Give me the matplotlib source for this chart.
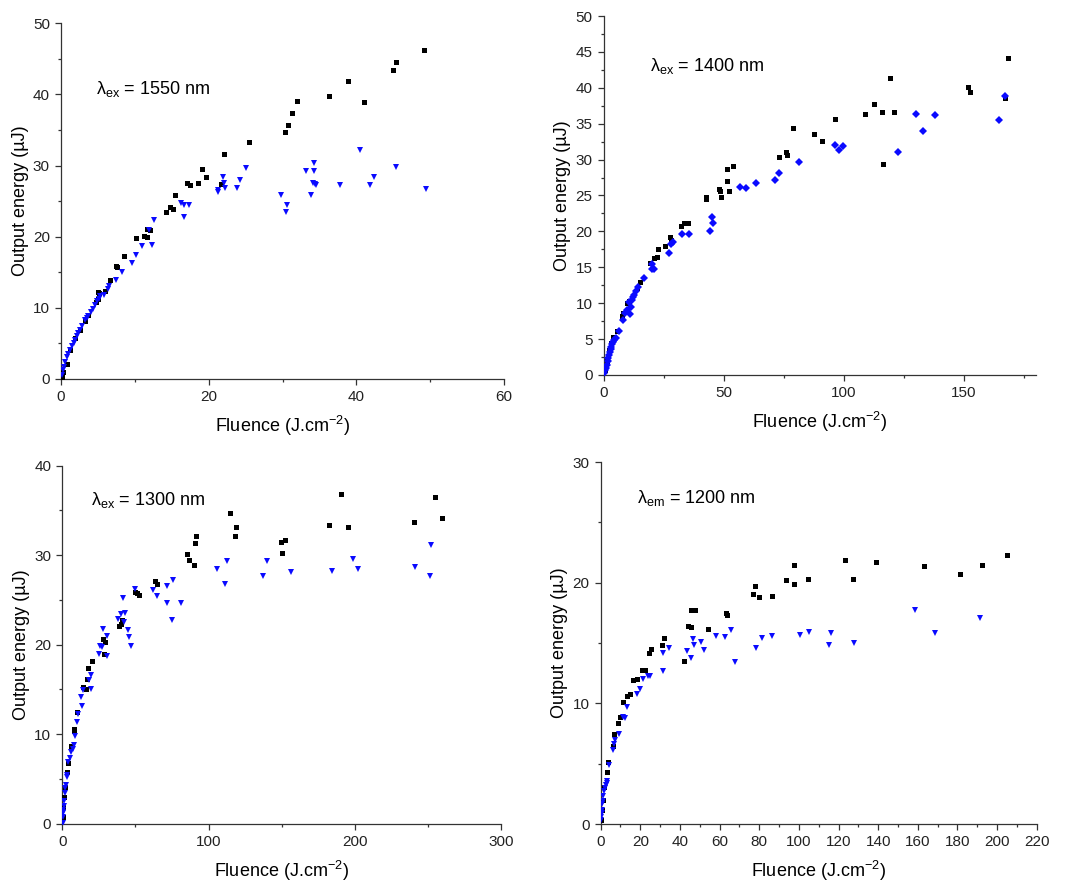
import matplotlib
matplotlib.use("Agg")
import matplotlib.pyplot as plt
from matplotlib.ticker import MultipleLocator

plt.rcParams['font.family'] = ['Liberation Sans', 'DejaVu Sans']
plt.rcParams['mathtext.default'] = 'regular'

# --- panel 1 : 1550 nm ---
p1_black_x = [0.1, 0.3, 0.77, 1.2, 1.9, 2.6, 3.2, 3.7, 4.7, 5.0, 5.05, 5.2, 5.95, 6.6, 7.5, 7.6, 8.5,
              10.2, 11.2, 11.7, 11.7, 12.1, 14.2, 14.8, 15.1, 15.4, 17.0, 17.4, 18.6, 19.1, 19.7,
              21.7, 22.1, 25.4, 30.4, 30.7, 31.3, 31.9, 36.3, 38.9, 41.0, 45.0, 45.4, 49.1]
p1_black_y = [0.3, 1.0, 2.1, 4.1, 5.8, 6.9, 8.2, 9.0, 10.8, 11.3, 12.2, 12.1, 12.4, 13.9, 15.9, 15.7, 17.3,
              19.8, 20.1, 20.0, 21.1, 20.9, 23.5, 24.2, 23.9, 25.8, 27.6, 27.3, 27.6, 29.5, 28.4,
              27.4, 31.6, 33.3, 34.7, 35.7, 37.4, 39.1, 39.8, 41.9, 38.9, 43.4, 44.6, 46.2]
p1_blue_x = [0.14, 0.25, 0.4, 0.55, 0.77, 0.95, 1.2, 1.45, 1.7, 1.9, 2.1, 2.35, 2.6, 2.9, 3.25,
             3.5, 3.7, 4.0, 4.3, 4.6, 4.9, 5.1, 5.3, 5.8, 6.3, 6.5, 7.4,
             8.2, 9.6, 10.2, 10.9, 11.9, 12.3, 12.6, 16.3, 16.6, 16.7, 17.3, 21.2, 21.2, 22.0,
             22.1, 22.2, 23.9, 24.2, 25.1, 29.8, 30.5, 30.6, 33.2, 33.9, 34.1, 34.2, 34.2, 34.4,
             34.6, 37.8, 40.5, 41.8, 42.4, 45.3, 49.4]
p1_blue_y = [0.6, 1.2, 1.7, 2.4, 3.1, 3.5, 4.1, 4.6, 5.0, 5.5, 6.0, 6.4, 6.9, 7.5, 8.3,
             8.6, 8.8, 9.4, 9.9, 10.4, 11.0, 11.2, 11.7, 11.8, 12.7, 13.1, 13.9,
             15.0, 16.3, 17.4, 18.7, 21.0, 18.8, 22.3, 24.8, 22.7, 24.4, 24.4, 26.6, 26.3, 28.4,
             27.6, 26.9, 26.8, 27.9, 29.6, 25.8, 23.5, 24.5, 29.2, 25.8, 27.5, 30.4, 29.3, 27.4,
             27.2, 27.2, 32.2, 27.3, 28.4, 29.8, 26.7]

# --- panel 2 : 1400 nm ---
p2_black_x = [0.55, 1.25, 2.1, 2.9, 4.0, 5.7, 7.6, 7.9, 9.6, 10.4, 13.8, 15.2, 19.2, 21.0, 22.1,
              22.7, 25.7, 27.7, 27.9, 32.4, 33.4, 35.2, 42.5, 42.8, 48.0, 48.4, 48.9, 51.3, 51.6,
              52.3, 53.7, 73.0, 75.9, 76.5, 79.1, 87.7, 91.1, 96.2, 109.1, 112.6, 116.1, 116.2,
              119.4, 121.1, 151.8, 152.8, 167.4, 168.6]
p2_black_y = [0.7, 1.9, 3.5, 4.4, 5.3, 6.1, 8.2, 8.6, 10.0, 10.3, 12.1, 12.9, 15.6, 16.3, 16.4,
              17.6, 18.0, 19.2, 18.8, 20.7, 21.2, 21.1, 24.5, 24.8, 25.9, 25.6, 24.8, 28.7, 27.0,
              25.6, 29.1, 30.4, 31.0, 30.6, 34.4, 33.5, 32.6, 35.7, 36.4, 37.7, 36.7, 29.4,
              41.3, 36.6, 40.1, 39.4, 38.6, 44.2]
p2_blue_x = [0.3, 0.55, 0.9, 1.25, 1.6, 1.9, 2.3, 2.6, 3.0, 3.2, 3.6, 4.0, 4.5, 5.1, 6.3, 8.2,
             8.8, 9.6, 10.4, 11.0, 11.3, 11.7, 12.2,
             12.7, 13.5, 14.5, 17.0, 20.0, 20.2, 21.0, 27.1, 28.2, 28.8, 32.5, 35.5, 44.3, 45.3,
             45.7, 57.0, 59.4, 63.5, 71.3, 73.0, 81.2, 96.5, 98.0, 99.8, 122.5, 130.3, 133.0,
             137.9, 164.9, 167.4]
p2_blue_y = [0.3, 0.7, 1.0, 1.4, 1.9, 2.3, 2.8, 3.2, 3.6, 3.9, 4.3, 4.6, 4.9, 5.2, 6.1, 7.7,
             8.6, 9.0, 10.2, 8.5, 9.5, 10.5, 10.8,
             11.1, 11.7, 12.3, 13.5, 14.8, 15.5, 14.7, 17.0, 18.2, 18.5, 19.6, 19.6, 20.1, 22.0,
             21.1, 26.2, 26.1, 26.7, 27.2, 28.1, 29.6, 32.0, 31.3, 31.9, 31.0, 36.4, 34.0,
             36.2, 35.5, 38.9]

# --- panel 3 : 1300 nm ---
p3_black_x = [0.2, 0.7, 1.4, 2.0, 3.0, 3.9, 5.7, 8.0, 8.2, 9.8, 14.4, 16.2, 17.1, 17.8, 20.0,
              28.0, 28.7, 29.1, 39.0, 40.3, 40.8, 49.7, 51.3, 52.6, 63.3, 64.5, 85.0, 86.8,
              90.0, 90.9, 91.6, 114.8, 117.8, 118.5, 149.2, 149.9, 152.4, 182.0, 190.2, 195.4,
              240.3, 254.4, 259.5]
p3_black_y = [0.8, 1.9, 3.0, 4.1, 5.8, 6.8, 8.7, 10.6, 10.3, 12.5, 15.3, 15.1, 16.2, 17.4, 18.2,
              20.6, 19.0, 20.3, 22.1, 22.3, 22.8, 25.9, 25.8, 25.5, 27.1, 26.8, 30.1, 29.5,
              28.9, 31.4, 32.1, 34.7, 32.1, 33.1, 31.5, 30.2, 31.7, 33.4, 36.8, 33.1,
              33.7, 36.5, 34.2]
p3_blue_x = [0.2, 0.3, 0.45, 0.6, 0.7, 0.9, 1.1, 1.6, 2.0, 2.5, 3.0, 3.5, 4.1, 5.2, 6.2, 7.0, 8.0,
             8.4, 9.8, 10.7, 13.0, 13.2,
             13.9, 18.4, 19.6, 19.8, 24.8, 25.7, 26.9, 28.0, 30.3, 30.3, 38.0, 39.9, 41.7, 42.1,
             43.1, 45.1, 45.3, 46.7, 49.4, 61.7, 64.9, 71.3, 71.5, 74.7, 75.9, 81.3, 105.7,
             111.4, 112.3, 137.4, 139.9, 156.3, 184.5, 198.4, 201.8, 241.0, 251.3, 252.2]
p3_blue_y = [0.04, 0.7, 1.15, 1.3, 1.5, 2.0, 2.5, 3.4, 4.0, 4.3, 5.4, 5.2, 6.9, 7.3, 8.0, 8.3, 8.8,
             9.8, 11.4, 12.3, 14.1, 13.2,
             14.9, 16.0, 15.0, 16.6, 19.0, 19.9, 19.7, 21.8, 21.0, 18.7, 22.9, 23.4, 25.2, 22.5,
             23.5, 21.6, 20.9, 19.8, 26.2, 26.1, 25.4, 26.6, 24.7, 22.8, 27.2, 24.7, 28.5,
             26.8, 29.3, 27.7, 29.3, 28.1, 28.2, 29.6, 28.5, 28.7, 27.7, 31.1]

# --- panel 4 : 1200 nm ---
p4_black_x = [0.2, 0.5, 1.0, 1.7, 3.0, 3.7, 6.1, 6.7, 8.7, 9.8, 11.4, 13.5, 14.8, 16.5, 18.2,
              20.7, 22.4, 24.6, 25.4, 30.9, 32.1, 42.2, 44.1, 45.6, 45.6, 47.6, 54.0, 63.4, 63.9,
              76.7, 78.0, 79.7, 86.6, 93.4, 97.4, 97.7, 104.8, 123.5, 127.2, 139.1, 163.0,
              181.3, 192.3, 205.0]
p4_black_y = [0.3, 1.2, 2.0, 3.1, 4.3, 5.1, 6.5, 7.5, 8.4, 8.9, 10.1, 10.6, 10.8, 11.9, 12.0,
              12.8, 12.8, 14.2, 14.5, 14.8, 15.4, 13.5, 16.4, 16.3, 17.7, 17.7, 16.2, 17.5, 17.3,
              19.1, 19.7, 18.8, 18.9, 20.2, 21.5, 19.9, 20.3, 21.9, 20.3, 21.7, 21.4,
              20.7, 21.5, 22.3]
p4_blue_x = [0.2, 0.3, 0.5, 0.6, 0.8, 1.0, 1.3, 1.7, 2.2, 2.6, 3.0, 3.4, 4.4, 6.1, 6.6, 7.4, 9.1,
             11.1, 12.1, 13.1, 18.2, 19.8,
             21.2, 23.9, 25.1, 31.3, 31.3, 34.7, 43.4, 45.8, 46.4, 47.1, 50.5, 51.9, 58.4, 62.7,
             65.8, 67.8, 78.4, 81.6, 86.6, 100.6, 105.3, 115.1, 116.4, 127.7, 158.8, 168.5, 191.4]
p4_blue_y = [0.3, 0.6, 0.9, 1.2, 1.7, 1.9, 2.3, 2.7, 3.0, 3.2, 3.4, 3.6, 4.9, 6.1, 6.6, 7.0, 7.5,
             8.9, 8.8, 9.7, 10.8, 11.2,
             12.0, 12.3, 12.3, 12.7, 14.2, 14.6, 14.3, 13.8, 15.3, 14.8, 15.1, 14.4, 15.6, 15.5,
             16.1, 13.4, 14.6, 15.4, 15.6, 15.7, 15.9, 14.8, 15.8, 15.0, 17.7, 15.8, 17.1]

blue = '#0a0aff'

fig = plt.figure(figsize=(10.69, 8.85), dpi=100)

panels = [
    # rect, black data, blue data, blue marker, xlim, xmaj, xmin, ylim, ymaj, ymin, label text, label pos
    ([0.0571, 0.5718, 0.4144, 0.4019], (p1_black_x, p1_black_y), (p1_blue_x, p1_blue_y), 'v',
     (0, 60), 20, 10, (0, 50), 10, 5, 'λ$_{ex}$ = 1550 nm', (4.8, 40.0)),
    ([0.5647, 0.5763, 0.4041, 0.4056], (p2_black_x, p2_black_y), (p2_blue_x, p2_blue_y), 'D',
     (0, 180), 50, 25, (0, 50), 5, 2.5, 'λ$_{ex}$ = 1400 nm', (19.3, 42.4)),
    ([0.0583, 0.0693, 0.4107, 0.4045], (p3_black_x, p3_black_y), (p3_blue_x, p3_blue_y), 'v',
     (0, 300), 100, 50, (0, 40), 10, 5, 'λ$_{ex}$ = 1300 nm', (19.4, 35.6)),
    ([0.5619, 0.0689, 0.4079, 0.4090], (p4_black_x, p4_black_y), (p4_blue_x, p4_blue_y), 'v',
     (0, 220), 20, 10, (0, 30), 10, 5, 'λ$_{em}$ = 1200 nm', (18.2, 26.6)),
]

for rect, blk, blu, bmark, xlim, xmaj, xmin, ylim, ymaj, ymin, txt, tpos in panels:
    ax = fig.add_axes(rect)
    ax.plot(blk[0], blk[1], 's', color='black', markersize=3.6, markeredgewidth=0, zorder=3)
    msize = 4.0 if bmark == 'D' else 5.0
    ax.plot(blu[0], blu[1], bmark, color=blue, markersize=msize, markeredgewidth=0, zorder=4)
    ax.set_xlim(*xlim)
    ax.set_ylim(*ylim)
    ax.xaxis.set_major_locator(MultipleLocator(xmaj))
    ax.xaxis.set_minor_locator(MultipleLocator(xmin))
    ax.yaxis.set_major_locator(MultipleLocator(ymaj))
    ax.yaxis.set_minor_locator(MultipleLocator(ymin))
    ax.spines['top'].set_visible(False)
    ax.spines['right'].set_visible(False)
    for s in ('left', 'bottom'):
        ax.spines[s].set_linewidth(0.9)
        ax.spines[s].set_color('#333333')
    ax.tick_params(which='major', direction='out', length=4, width=0.9, labelsize=11,
                   pad=4, colors='#333333', labelcolor='#222222')
    ax.tick_params(which='minor', direction='out', length=2.5, width=0.9, colors='#333333')
    ax.set_xlabel('Fluence (J.cm$^{-2}$)', fontsize=13, labelpad=7)
    ax.set_ylabel('Output energy (µJ)', fontsize=13, labelpad=3)
    ax.text(tpos[0], tpos[1], txt, fontsize=13, va='baseline', ha='left')
    ax.patch.set_alpha(0)

fig.savefig('out.png', dpi=100)
